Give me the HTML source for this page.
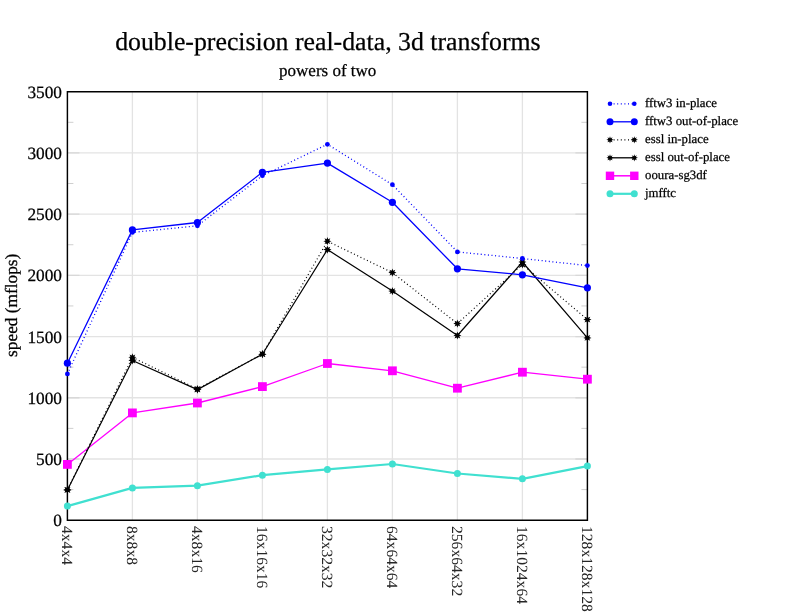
<!DOCTYPE html><html><head><meta charset="utf-8"><style>html,body{margin:0;padding:0;background:#fff;overflow:hidden}svg{display:block;will-change:transform} text{font-family:"Liberation Serif",serif;text-rendering:geometricPrecision;stroke:#000;stroke-width:0.25px} text.xl{stroke:none;fill:#262626}</style></head><body>
<svg width="792" height="612" viewBox="0 0 792 612">
<rect width="792" height="612" fill="#fff"/>
<path d="M67.40 458.99H587.40 M67.40 397.77H587.40 M67.40 336.56H587.40 M67.40 275.34H587.40 M67.40 214.13H587.40 M67.40 152.91H587.40 M132.40 91.70V520.20 M197.40 91.70V520.20 M262.40 91.70V520.20 M327.40 91.70V520.20 M392.40 91.70V520.20 M457.40 91.70V520.20 M522.40 91.70V520.20" stroke="#e3e3e3" stroke-width="1.3" fill="none"/>
<path d="M67.40 489.59h6 M587.40 489.59h-6 M67.40 428.38h6 M587.40 428.38h-6 M67.40 367.16h6 M587.40 367.16h-6 M67.40 305.95h6 M587.40 305.95h-6 M67.40 244.74h6 M587.40 244.74h-6 M67.40 183.52h6 M587.40 183.52h-6 M67.40 122.31h6 M587.40 122.31h-6" stroke="#cfcfcf" stroke-width="1" fill="none"/>
<path d="M67.40 458.99h12 M587.40 458.99h-12 M67.40 397.77h12 M587.40 397.77h-12 M67.40 336.56h12 M587.40 336.56h-12 M67.40 275.34h12 M587.40 275.34h-12 M67.40 214.13h12 M587.40 214.13h-12 M67.40 152.91h12 M587.40 152.91h-12" stroke="#d8d8d8" stroke-width="1.3" fill="none"/>
<path d="M67.4 91.70H587.4V520.2H67.4Z" stroke="#000" stroke-width="1.45" fill="none"/>
<text transform="translate(62.00,526.15)" font-size="17.30" text-anchor="end">0</text>
<text transform="translate(62.00,464.94)" font-size="17.30" text-anchor="end">500</text>
<text transform="translate(62.00,403.72)" font-size="17.30" text-anchor="end">1000</text>
<text transform="translate(62.00,342.51)" font-size="17.30" text-anchor="end">1500</text>
<text transform="translate(62.00,281.29)" font-size="17.30" text-anchor="end">2000</text>
<text transform="translate(62.00,220.08)" font-size="17.30" text-anchor="end">2500</text>
<text transform="translate(62.00,158.86)" font-size="17.30" text-anchor="end">3000</text>
<text transform="translate(62.00,97.65)" font-size="17.30" text-anchor="end">3500</text>
<text class="xl" transform="translate(62.00,526.00) rotate(90)" font-size="15.60">4x4x4</text>
<text class="xl" transform="translate(127.00,526.00) rotate(90)" font-size="15.60">8x8x8</text>
<text class="xl" transform="translate(192.00,526.00) rotate(90)" font-size="15.60">4x8x16</text>
<text class="xl" transform="translate(257.00,526.00) rotate(90)" font-size="15.60">16x16x16</text>
<text class="xl" transform="translate(322.00,526.00) rotate(90)" font-size="15.60">32x32x32</text>
<text class="xl" transform="translate(387.00,526.00) rotate(90)" font-size="15.60">64x64x64</text>
<text class="xl" transform="translate(452.00,526.00) rotate(90)" font-size="15.60">256x64x32</text>
<text class="xl" transform="translate(517.00,526.00) rotate(90)" font-size="15.60">16x1024x64</text>
<text class="xl" transform="translate(582.00,526.00) rotate(90)" font-size="15.60">128x128x128</text>
<text transform="translate(327.90,50.00)" font-size="25.80" text-anchor="middle">double-precision real-data, 3d transforms</text>
<text transform="translate(327.70,75.50)" font-size="17.00" text-anchor="middle">powers of two</text>
<text transform="translate(17.00,305.30) rotate(-90)" font-size="17.30" text-anchor="middle">speed (mflops)</text>
<polyline points="67.40,506.10 132.40,487.90 197.40,485.70 262.40,475.20 327.40,469.40 392.40,464.00 457.40,473.50 522.40,478.80 587.40,466.10" stroke="#40e0d0" stroke-width="2.2" fill="none" stroke-linejoin="round"/>
<circle cx="67.40" cy="506.10" r="3.5" fill="#40e0d0"/>
<circle cx="132.40" cy="487.90" r="3.5" fill="#40e0d0"/>
<circle cx="197.40" cy="485.70" r="3.5" fill="#40e0d0"/>
<circle cx="262.40" cy="475.20" r="3.5" fill="#40e0d0"/>
<circle cx="327.40" cy="469.40" r="3.5" fill="#40e0d0"/>
<circle cx="392.40" cy="464.00" r="3.5" fill="#40e0d0"/>
<circle cx="457.40" cy="473.50" r="3.5" fill="#40e0d0"/>
<circle cx="522.40" cy="478.80" r="3.5" fill="#40e0d0"/>
<circle cx="587.40" cy="466.10" r="3.5" fill="#40e0d0"/>
<polyline points="67.40,464.40 132.40,412.90 197.40,403.00 262.40,386.60 327.40,363.50 392.40,370.80 457.40,388.20 522.40,372.20 587.40,379.20" stroke="#ff00ff" stroke-width="1.3" fill="none" stroke-linejoin="round"/>
<rect x="63.00" y="460.00" width="8.8" height="8.8" fill="#ff00ff"/>
<rect x="128.00" y="408.50" width="8.8" height="8.8" fill="#ff00ff"/>
<rect x="193.00" y="398.60" width="8.8" height="8.8" fill="#ff00ff"/>
<rect x="258.00" y="382.20" width="8.8" height="8.8" fill="#ff00ff"/>
<rect x="323.00" y="359.10" width="8.8" height="8.8" fill="#ff00ff"/>
<rect x="388.00" y="366.40" width="8.8" height="8.8" fill="#ff00ff"/>
<rect x="453.00" y="383.80" width="8.8" height="8.8" fill="#ff00ff"/>
<rect x="518.00" y="367.80" width="8.8" height="8.8" fill="#ff00ff"/>
<rect x="583.00" y="374.80" width="8.8" height="8.8" fill="#ff00ff"/>
<polyline points="67.40,489.90 132.40,360.50 197.40,389.60 262.40,354.20 327.40,249.60 392.40,291.10 457.40,335.50 522.40,262.00 587.40,337.90" stroke="#000000" stroke-width="1.2" fill="none" stroke-linejoin="round"/>
<polygon points="67.40,485.80 68.18,488.01 70.30,487.00 69.29,489.12 71.50,489.90 69.29,490.68 70.30,492.80 68.18,491.79 67.40,494.00 66.62,491.79 64.50,492.80 65.51,490.68 63.30,489.90 65.51,489.12 64.50,487.00 66.62,488.01" fill="#000000"/>
<polygon points="132.40,356.40 133.18,358.61 135.30,357.60 134.29,359.72 136.50,360.50 134.29,361.28 135.30,363.40 133.18,362.39 132.40,364.60 131.62,362.39 129.50,363.40 130.51,361.28 128.30,360.50 130.51,359.72 129.50,357.60 131.62,358.61" fill="#000000"/>
<polygon points="197.40,385.50 198.18,387.71 200.30,386.70 199.29,388.82 201.50,389.60 199.29,390.38 200.30,392.50 198.18,391.49 197.40,393.70 196.62,391.49 194.50,392.50 195.51,390.38 193.30,389.60 195.51,388.82 194.50,386.70 196.62,387.71" fill="#000000"/>
<polygon points="262.40,350.10 263.18,352.31 265.30,351.30 264.29,353.42 266.50,354.20 264.29,354.98 265.30,357.10 263.18,356.09 262.40,358.30 261.62,356.09 259.50,357.10 260.51,354.98 258.30,354.20 260.51,353.42 259.50,351.30 261.62,352.31" fill="#000000"/>
<polygon points="327.40,245.50 328.18,247.71 330.30,246.70 329.29,248.82 331.50,249.60 329.29,250.38 330.30,252.50 328.18,251.49 327.40,253.70 326.62,251.49 324.50,252.50 325.51,250.38 323.30,249.60 325.51,248.82 324.50,246.70 326.62,247.71" fill="#000000"/>
<polygon points="392.40,287.00 393.18,289.21 395.30,288.20 394.29,290.32 396.50,291.10 394.29,291.88 395.30,294.00 393.18,292.99 392.40,295.20 391.62,292.99 389.50,294.00 390.51,291.88 388.30,291.10 390.51,290.32 389.50,288.20 391.62,289.21" fill="#000000"/>
<polygon points="457.40,331.40 458.18,333.61 460.30,332.60 459.29,334.72 461.50,335.50 459.29,336.28 460.30,338.40 458.18,337.39 457.40,339.60 456.62,337.39 454.50,338.40 455.51,336.28 453.30,335.50 455.51,334.72 454.50,332.60 456.62,333.61" fill="#000000"/>
<polygon points="522.40,257.90 523.18,260.11 525.30,259.10 524.29,261.22 526.50,262.00 524.29,262.78 525.30,264.90 523.18,263.89 522.40,266.10 521.62,263.89 519.50,264.90 520.51,262.78 518.30,262.00 520.51,261.22 519.50,259.10 521.62,260.11" fill="#000000"/>
<polygon points="587.40,333.80 588.18,336.01 590.30,335.00 589.29,337.12 591.50,337.90 589.29,338.68 590.30,340.80 588.18,339.79 587.40,342.00 586.62,339.79 584.50,340.80 585.51,338.68 583.30,337.90 585.51,337.12 584.50,335.00 586.62,336.01" fill="#000000"/>
<polyline points="67.40,489.90 132.40,357.30 197.40,389.00 262.40,354.20 327.40,241.20 392.40,272.60 457.40,323.60 522.40,264.50 587.40,319.60" stroke="#000000" stroke-width="1.2" fill="none" stroke-linejoin="round" stroke-dasharray="1 2.6"/>
<polygon points="67.40,485.80 68.18,488.01 70.30,487.00 69.29,489.12 71.50,489.90 69.29,490.68 70.30,492.80 68.18,491.79 67.40,494.00 66.62,491.79 64.50,492.80 65.51,490.68 63.30,489.90 65.51,489.12 64.50,487.00 66.62,488.01" fill="#000000"/>
<polygon points="132.40,353.20 133.18,355.41 135.30,354.40 134.29,356.52 136.50,357.30 134.29,358.08 135.30,360.20 133.18,359.19 132.40,361.40 131.62,359.19 129.50,360.20 130.51,358.08 128.30,357.30 130.51,356.52 129.50,354.40 131.62,355.41" fill="#000000"/>
<polygon points="197.40,384.90 198.18,387.11 200.30,386.10 199.29,388.22 201.50,389.00 199.29,389.78 200.30,391.90 198.18,390.89 197.40,393.10 196.62,390.89 194.50,391.90 195.51,389.78 193.30,389.00 195.51,388.22 194.50,386.10 196.62,387.11" fill="#000000"/>
<polygon points="262.40,350.10 263.18,352.31 265.30,351.30 264.29,353.42 266.50,354.20 264.29,354.98 265.30,357.10 263.18,356.09 262.40,358.30 261.62,356.09 259.50,357.10 260.51,354.98 258.30,354.20 260.51,353.42 259.50,351.30 261.62,352.31" fill="#000000"/>
<polygon points="327.40,237.10 328.18,239.31 330.30,238.30 329.29,240.42 331.50,241.20 329.29,241.98 330.30,244.10 328.18,243.09 327.40,245.30 326.62,243.09 324.50,244.10 325.51,241.98 323.30,241.20 325.51,240.42 324.50,238.30 326.62,239.31" fill="#000000"/>
<polygon points="392.40,268.50 393.18,270.71 395.30,269.70 394.29,271.82 396.50,272.60 394.29,273.38 395.30,275.50 393.18,274.49 392.40,276.70 391.62,274.49 389.50,275.50 390.51,273.38 388.30,272.60 390.51,271.82 389.50,269.70 391.62,270.71" fill="#000000"/>
<polygon points="457.40,319.50 458.18,321.71 460.30,320.70 459.29,322.82 461.50,323.60 459.29,324.38 460.30,326.50 458.18,325.49 457.40,327.70 456.62,325.49 454.50,326.50 455.51,324.38 453.30,323.60 455.51,322.82 454.50,320.70 456.62,321.71" fill="#000000"/>
<polygon points="522.40,260.40 523.18,262.61 525.30,261.60 524.29,263.72 526.50,264.50 524.29,265.28 525.30,267.40 523.18,266.39 522.40,268.60 521.62,266.39 519.50,267.40 520.51,265.28 518.30,264.50 520.51,263.72 519.50,261.60 521.62,262.61" fill="#000000"/>
<polygon points="587.40,315.50 588.18,317.71 590.30,316.70 589.29,318.82 591.50,319.60 589.29,320.38 590.30,322.50 588.18,321.49 587.40,323.70 586.62,321.49 584.50,322.50 585.51,320.38 583.30,319.60 585.51,318.82 584.50,316.70 586.62,317.71" fill="#000000"/>
<polyline points="67.40,363.20 132.40,229.90 197.40,222.50 262.40,172.30 327.40,163.10 392.40,202.30 457.40,268.80 522.40,274.80 587.40,287.80" stroke="#0000ff" stroke-width="1.3" fill="none" stroke-linejoin="round"/>
<circle cx="67.40" cy="363.20" r="3.6" fill="#0000ff"/>
<circle cx="132.40" cy="229.90" r="3.6" fill="#0000ff"/>
<circle cx="197.40" cy="222.50" r="3.6" fill="#0000ff"/>
<circle cx="262.40" cy="172.30" r="3.6" fill="#0000ff"/>
<circle cx="327.40" cy="163.10" r="3.6" fill="#0000ff"/>
<circle cx="392.40" cy="202.30" r="3.6" fill="#0000ff"/>
<circle cx="457.40" cy="268.80" r="3.6" fill="#0000ff"/>
<circle cx="522.40" cy="274.80" r="3.6" fill="#0000ff"/>
<circle cx="587.40" cy="287.80" r="3.6" fill="#0000ff"/>
<polyline points="67.40,373.90 132.40,232.40 197.40,225.80 262.40,175.70 327.40,144.30 392.40,184.70 457.40,251.90 522.40,258.50 587.40,265.60" stroke="#0000ff" stroke-width="1.3" fill="none" stroke-linejoin="round" stroke-dasharray="1 2.6"/>
<circle cx="67.40" cy="373.90" r="2.4" fill="#0000ff"/>
<circle cx="132.40" cy="232.40" r="2.4" fill="#0000ff"/>
<circle cx="197.40" cy="225.80" r="2.4" fill="#0000ff"/>
<circle cx="262.40" cy="175.70" r="2.4" fill="#0000ff"/>
<circle cx="327.40" cy="144.30" r="2.4" fill="#0000ff"/>
<circle cx="392.40" cy="184.70" r="2.4" fill="#0000ff"/>
<circle cx="457.40" cy="251.90" r="2.4" fill="#0000ff"/>
<circle cx="522.40" cy="258.50" r="2.4" fill="#0000ff"/>
<circle cx="587.40" cy="265.60" r="2.4" fill="#0000ff"/>
<path d="M610 103.8H634.3" stroke="#0000ff" stroke-width="1.2" stroke-dasharray="1 2.6"/>
<circle cx="610.00" cy="103.80" r="2.3" fill="#0000ff"/>
<circle cx="634.30" cy="103.80" r="2.3" fill="#0000ff"/>
<text transform="translate(645.00,107.10)" font-size="12.80">fftw3 in-place</text>
<path d="M610 121.8H634.3" stroke="#0000ff" stroke-width="1.3"/>
<circle cx="610.00" cy="121.80" r="3.5" fill="#0000ff"/>
<circle cx="634.30" cy="121.80" r="3.5" fill="#0000ff"/>
<text transform="translate(645.00,125.10)" font-size="12.80">fftw3 out-of-place</text>
<path d="M610 139.8H634.3" stroke="#000000" stroke-width="1.2" stroke-dasharray="1 2.6"/>
<polygon points="610.00,136.20 610.69,138.14 612.55,137.25 611.66,139.11 613.60,139.80 611.66,140.49 612.55,142.35 610.69,141.46 610.00,143.40 609.31,141.46 607.45,142.35 608.34,140.49 606.40,139.80 608.34,139.11 607.45,137.25 609.31,138.14" fill="#000000"/>
<polygon points="634.30,136.20 634.99,138.14 636.85,137.25 635.96,139.11 637.90,139.80 635.96,140.49 636.85,142.35 634.99,141.46 634.30,143.40 633.61,141.46 631.75,142.35 632.64,140.49 630.70,139.80 632.64,139.11 631.75,137.25 633.61,138.14" fill="#000000"/>
<text transform="translate(645.00,143.10)" font-size="12.80">essl in-place</text>
<path d="M610 157.8H634.3" stroke="#000000" stroke-width="1.3"/>
<polygon points="610.00,154.20 610.69,156.14 612.55,155.25 611.66,157.11 613.60,157.80 611.66,158.49 612.55,160.35 610.69,159.46 610.00,161.40 609.31,159.46 607.45,160.35 608.34,158.49 606.40,157.80 608.34,157.11 607.45,155.25 609.31,156.14" fill="#000000"/>
<polygon points="634.30,154.20 634.99,156.14 636.85,155.25 635.96,157.11 637.90,157.80 635.96,158.49 636.85,160.35 634.99,159.46 634.30,161.40 633.61,159.46 631.75,160.35 632.64,158.49 630.70,157.80 632.64,157.11 631.75,155.25 633.61,156.14" fill="#000000"/>
<text transform="translate(645.00,161.10)" font-size="12.80">essl out-of-place</text>
<path d="M610 175.8H634.3" stroke="#ff00ff" stroke-width="1.5"/>
<rect x="605.80" y="171.60" width="8.4" height="8.4" fill="#ff00ff"/>
<rect x="630.10" y="171.60" width="8.4" height="8.4" fill="#ff00ff"/>
<text transform="translate(645.00,179.10)" font-size="12.80">ooura-sg3df</text>
<path d="M610 193.8H634.3" stroke="#40e0d0" stroke-width="2.2"/>
<circle cx="610.00" cy="193.80" r="3.5" fill="#40e0d0"/>
<circle cx="634.30" cy="193.80" r="3.5" fill="#40e0d0"/>
<text transform="translate(645.00,197.10)" font-size="12.80">jmfftc</text>
</svg></body></html>
